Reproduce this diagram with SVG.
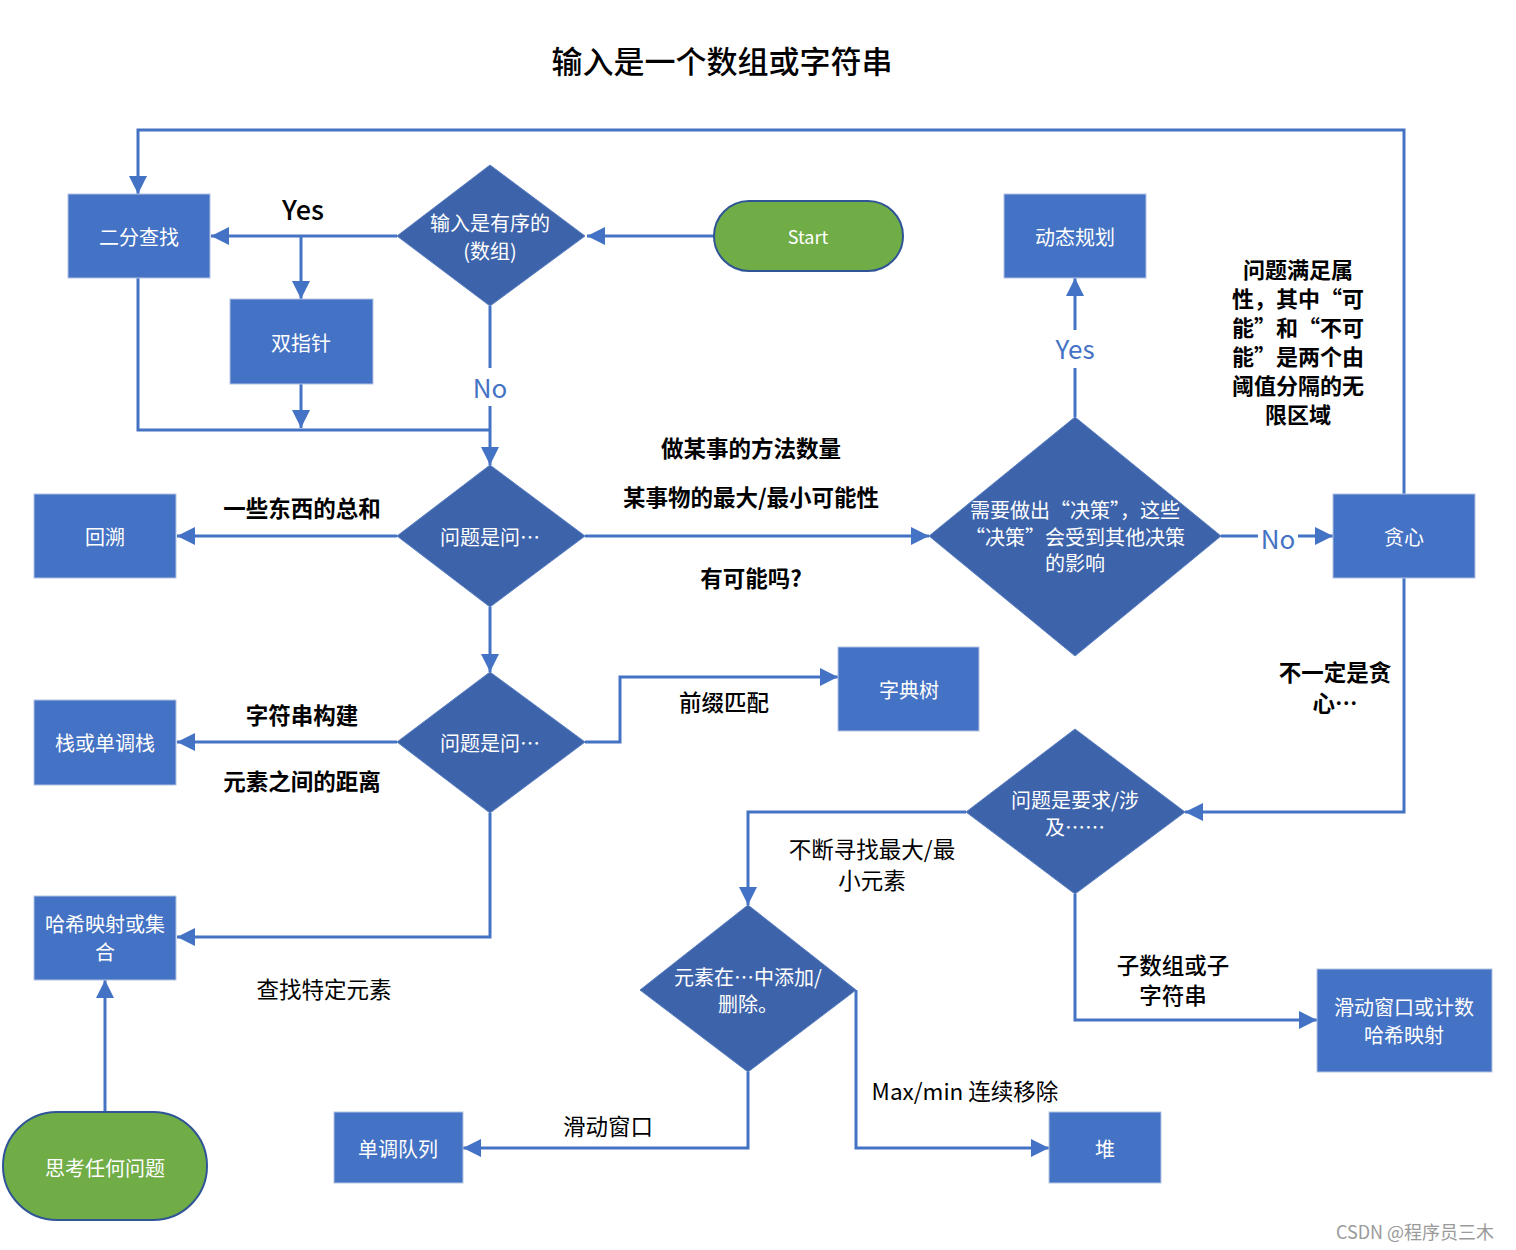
<svg xmlns="http://www.w3.org/2000/svg" width="1516" height="1250" viewBox="0 0 1516 1250">
<style>
text{font-family:"Noto Sans CJK SC","Noto Sans",sans-serif;text-anchor:middle;dominant-baseline:central}
.box{fill:#4472C4;stroke:#B4C4E4;stroke-width:1}
.dia{fill:#3D64AB;stroke:#5B7FC2;stroke-width:1}
.pill{fill:#70AD47;stroke:#2F5597;stroke-width:2}
.wt{fill:#FFFFFF;font-size:20px}
.lb{fill:#000000;font-size:22.5px;font-weight:bold}
.ln{fill:#000000;font-size:22.5px}
.bl{fill:#4472C4;font-size:26px}
.c{fill:none;stroke:#4472C4;stroke-width:3}
</style>
<defs>
<marker id="ah" markerUnits="userSpaceOnUse" markerWidth="18" markerHeight="18" refX="18" refY="9" orient="auto">
<path d="M0,0 L18,9 L0,18 z" fill="#4472C4"/>
</marker>
</defs>
<rect width="1516" height="1250" fill="#FFFFFF"/>
<text x="722" y="59" style="font-size:31px;font-weight:500" fill="#000">输入是一个数组或字符串</text>

<g id="connectors">
<path class="c" d="M714,236 H587" marker-end="url(#ah)"/>
<path class="c" d="M397,236 H211" marker-end="url(#ah)"/>
<path class="c" d="M301,236 V299" marker-end="url(#ah)"/>
<path class="c" d="M138,278 V430 H490"/>
<path class="c" d="M301,384 V428" marker-end="url(#ah)"/>
<path class="c" d="M490,306 V368"/>
<path class="c" d="M490,406 V465" marker-end="url(#ah)"/>
<path class="c" d="M397,536 H177" marker-end="url(#ah)"/>
<path class="c" d="M585,536 H929" marker-end="url(#ah)"/>
<path class="c" d="M490,607 V672" marker-end="url(#ah)"/>
<path class="c" d="M1075,417 V368"/>
<path class="c" d="M1075,330 V278" marker-end="url(#ah)"/>
<path class="c" d="M1221,536 H1258"/>
<path class="c" d="M1298,536 H1333" marker-end="url(#ah)"/>
<path class="c" d="M1404,494 V130 H138 V194" marker-end="url(#ah)"/>
<path class="c" d="M1404,578 V812 H1185" marker-end="url(#ah)"/>
<path class="c" d="M397,742 H177" marker-end="url(#ah)"/>
<path class="c" d="M585,742 H620 V677 H838" marker-end="url(#ah)"/>
<path class="c" d="M490,813 V937 H177" marker-end="url(#ah)"/>
<path class="c" d="M105,1112 V980" marker-end="url(#ah)"/>
<path class="c" d="M966,812 H748 V905" marker-end="url(#ah)"/>
<path class="c" d="M1075,894 V1020 H1317" marker-end="url(#ah)"/>
<path class="c" d="M748,1072 V1148 H463" marker-end="url(#ah)"/>
<path class="c" d="M856,990 V1148 H1049" marker-end="url(#ah)"/>
<text class="lb" x="303" y="208" style="font-size:27px;font-weight:500">Yes</text>
<text class="bl" x="490" y="386">No</text>
<text class="bl" x="1075" y="347">Yes</text>
<text class="bl" x="1278" y="537">No</text>
<text class="lb" x="302" y="507">一些东西的总和</text>
<text class="lb" x="751" y="447">做某事的方法数量</text>
<text class="lb" x="751" y="496">某事物的最大/最小可能性</text>
<text class="lb" x="751" y="577">有可能吗?</text>
<text class="lb" x="302" y="714">字符串构建</text>
<text class="lb" x="302" y="780">元素之间的距离</text>
<text class="ln" x="724" y="701" style="font-weight:500">前缀匹配</text>
<text class="ln" x="324" y="988">查找特定元素</text>
<text class="ln" x="872" y="848">不断寻找最大/最</text>
<text class="ln" x="872" y="879">小元素</text>
<text class="lb" x="1173" y="964" style="font-weight:500">子数组或子</text>
<text class="lb" x="1173" y="994" style="font-weight:500">字符串</text>
<text class="ln" x="608" y="1125">滑动窗口</text>
<text class="ln" x="965" y="1090">Max/min 连续移除</text>
<text class="lb" x="1335" y="671">不一定是贪</text>
<text class="lb" x="1335" y="702">心…</text>
<text class="lb" style="font-size:22px"><tspan x="1298" y="268">问题满足属</tspan><tspan x="1298" y="297">性，其中“可</tspan><tspan x="1298" y="326">能”和“不可</tspan><tspan x="1298" y="355">能”是两个由</tspan><tspan x="1298" y="384">阈值分隔的无</tspan><tspan x="1298" y="413">限区域</tspan></text>
</g>

<g id="start"><rect class="pill" x="714" y="201" width="189" height="70" rx="35"/><text class="wt" x="808" y="236" style="font-size:18px">Start</text></g>
<g id="d-sorted"><polygon class="dia" points="490,165 585,236 490,306 397,236"/><text class="wt" x="490" y="222">输入是有序的</text><text class="wt" x="490" y="250">(数组)</text></g>
<g id="binary-search"><rect class="box" x="68" y="194" width="142" height="84"/><text class="wt" x="139" y="236">二分查找</text></g>
<g id="two-pointers"><rect class="box" x="230" y="299" width="143" height="85"/><text class="wt" x="301" y="342">双指针</text></g>
<g id="d-ask1"><polygon class="dia" points="490,465 585,536 490,607 397,536"/><text class="wt" x="490" y="536">问题是问…</text></g>
<g id="backtrack"><rect class="box" x="34" y="494" width="142" height="84"/><text class="wt" x="105" y="536">回溯</text></g>
<g id="d-decision"><polygon class="dia" points="1075,417 1221,536 1075,656 929,536"/><text class="wt" x="1075" y="509">需要做出“决策”，这些</text><text class="wt" x="1075" y="536">“决策”会受到其他决策</text><text class="wt" x="1075" y="562">的影响</text></g>
<g id="dp"><rect class="box" x="1004" y="194" width="142" height="84"/><text class="wt" x="1075" y="236">动态规划</text></g>
<g id="greedy"><rect class="box" x="1333" y="494" width="142" height="84"/><text class="wt" x="1404" y="536">贪心</text></g>
<g id="d-ask2"><polygon class="dia" points="490,672 585,742 490,813 397,742"/><text class="wt" x="490" y="742">问题是问…</text></g>
<g id="stack"><rect class="box" x="34" y="700" width="142" height="85"/><text class="wt" x="105" y="742">栈或单调栈</text></g>
<g id="trie"><rect class="box" x="838" y="647" width="141" height="84"/><text class="wt" x="909" y="689">字典树</text></g>
<g id="hash"><rect class="box" x="34" y="896" width="142" height="84"/><text class="wt" x="105" y="923">哈希映射或集</text><text class="wt" x="105" y="951">合</text></g>
<g id="think"><rect class="pill" x="3" y="1112" width="204" height="108" rx="54"/><text class="wt" x="105" y="1167">思考任何问题</text></g>
<g id="d-require"><polygon class="dia" points="1075,729 1185,812 1075,894 966,812"/><text class="wt" x="1075" y="799">问题是要求/涉</text><text class="wt" x="1075" y="826">及……</text></g>
<g id="sliding-hash"><rect class="box" x="1317" y="969" width="175" height="103"/><text class="wt" x="1404" y="1006">滑动窗口或计数</text><text class="wt" x="1404" y="1034">哈希映射</text></g>
<g id="d-element"><polygon class="dia" points="748,905 856,990 748,1072 640,990"/><text class="wt" x="748" y="976">元素在…中添加/</text><text class="wt" x="748" y="1003">删除。</text></g>
<g id="mono-queue"><rect class="box" x="334" y="1112" width="129" height="71"/><text class="wt" x="398" y="1148">单调队列</text></g>
<g id="heap"><rect class="box" x="1049" y="1112" width="112" height="71"/><text class="wt" x="1105" y="1148">堆</text></g>
<text x="1415" y="1231" style="font-size:18px" fill="#9A9A9A">CSDN @程序员三木</text>
</svg>
